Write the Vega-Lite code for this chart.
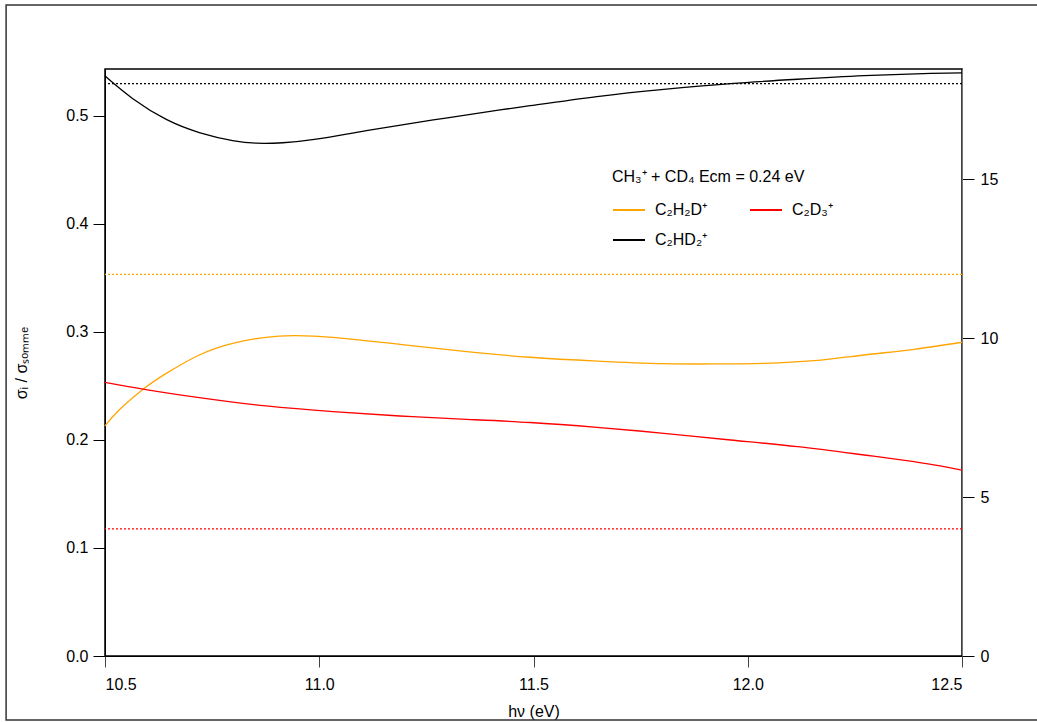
{
  "$schema": "https://vega.github.io/schema/vega-lite/v6.json",
  "autosize": {"type": "none"},
  "width": 857,
  "height": 587,
  "padding": {"left": 105, "top": 69, "right": 75, "bottom": 66},
  "background": "white",
  "config": {
    "font": "Liberation Sans",
    "view": {"stroke": "#000", "strokeWidth": 1.5},
    "axis": {"grid": false, "labelFontSize": 16, "titleFontSize": 16, "labelColor": "#000", "titleColor": "#000", "titleFontWeight": "normal", "tickColor": "#000", "domainColor": "#000", "labelFont": "Liberation Sans", "titleFont": "Liberation Sans"}
  },
  "datasets": {
    "curves": [
      {"hv": 10.5, "ratio": 0.537, "ion": "C₂HD₂⁺"},
      {"hv": 10.565, "ratio": 0.516, "ion": "C₂HD₂⁺"},
      {"hv": 10.643, "ratio": 0.4968, "ion": "C₂HD₂⁺"},
      {"hv": 10.72, "ratio": 0.4847, "ion": "C₂HD₂⁺"},
      {"hv": 10.798, "ratio": 0.4772, "ion": "C₂HD₂⁺"},
      {"hv": 10.853, "ratio": 0.4748, "ion": "C₂HD₂⁺"},
      {"hv": 10.915, "ratio": 0.4752, "ion": "C₂HD₂⁺"},
      {"hv": 10.993, "ratio": 0.4785, "ion": "C₂HD₂⁺"},
      {"hv": 11.11, "ratio": 0.4864, "ion": "C₂HD₂⁺"},
      {"hv": 11.266, "ratio": 0.4963, "ion": "C₂HD₂⁺"},
      {"hv": 11.422, "ratio": 0.5056, "ion": "C₂HD₂⁺"},
      {"hv": 11.492, "ratio": 0.5095, "ion": "C₂HD₂⁺"},
      {"hv": 11.648, "ratio": 0.518, "ion": "C₂HD₂⁺"},
      {"hv": 11.804, "ratio": 0.5247, "ion": "C₂HD₂⁺"},
      {"hv": 11.96, "ratio": 0.53, "ion": "C₂HD₂⁺"},
      {"hv": 12.116, "ratio": 0.534, "ion": "C₂HD₂⁺"},
      {"hv": 12.272, "ratio": 0.5373, "ion": "C₂HD₂⁺"},
      {"hv": 12.427, "ratio": 0.5395, "ion": "C₂HD₂⁺"},
      {"hv": 12.5, "ratio": 0.54, "ion": "C₂HD₂⁺"},
      {"hv": 10.5, "ratio": 0.213, "ion": "C₂H₂D⁺"},
      {"hv": 10.533, "ratio": 0.2278, "ion": "C₂H₂D⁺"},
      {"hv": 10.592, "ratio": 0.2479, "ion": "C₂H₂D⁺"},
      {"hv": 10.643, "ratio": 0.2617, "ion": "C₂H₂D⁺"},
      {"hv": 10.72, "ratio": 0.2787, "ion": "C₂H₂D⁺"},
      {"hv": 10.798, "ratio": 0.2895, "ion": "C₂H₂D⁺"},
      {"hv": 10.876, "ratio": 0.2951, "ion": "C₂H₂D⁺"},
      {"hv": 10.939, "ratio": 0.2966, "ion": "C₂H₂D⁺"},
      {"hv": 11.032, "ratio": 0.2951, "ion": "C₂H₂D⁺"},
      {"hv": 11.188, "ratio": 0.2886, "ion": "C₂H₂D⁺"},
      {"hv": 11.344, "ratio": 0.2818, "ion": "C₂H₂D⁺"},
      {"hv": 11.492, "ratio": 0.2766, "ion": "C₂H₂D⁺"},
      {"hv": 11.648, "ratio": 0.2731, "ion": "C₂H₂D⁺"},
      {"hv": 11.804, "ratio": 0.2707, "ion": "C₂H₂D⁺"},
      {"hv": 11.921, "ratio": 0.2704, "ion": "C₂H₂D⁺"},
      {"hv": 12.038, "ratio": 0.271, "ion": "C₂H₂D⁺"},
      {"hv": 12.155, "ratio": 0.2734, "ion": "C₂H₂D⁺"},
      {"hv": 12.272, "ratio": 0.2787, "ion": "C₂H₂D⁺"},
      {"hv": 12.388, "ratio": 0.284, "ion": "C₂H₂D⁺"},
      {"hv": 12.5, "ratio": 0.2905, "ion": "C₂H₂D⁺"},
      {"hv": 10.5, "ratio": 0.2534, "ion": "C₂D₃⁺"},
      {"hv": 10.592, "ratio": 0.2469, "ion": "C₂D₃⁺"},
      {"hv": 10.72, "ratio": 0.2392, "ion": "C₂D₃⁺"},
      {"hv": 10.876, "ratio": 0.2315, "ion": "C₂D₃⁺"},
      {"hv": 11.032, "ratio": 0.2262, "ion": "C₂D₃⁺"},
      {"hv": 11.188, "ratio": 0.2222, "ion": "C₂D₃⁺"},
      {"hv": 11.344, "ratio": 0.2191, "ion": "C₂D₃⁺"},
      {"hv": 11.492, "ratio": 0.2162, "ion": "C₂D₃⁺"},
      {"hv": 11.648, "ratio": 0.2117, "ion": "C₂D₃⁺"},
      {"hv": 11.804, "ratio": 0.2062, "ion": "C₂D₃⁺"},
      {"hv": 11.96, "ratio": 0.2, "ion": "C₂D₃⁺"},
      {"hv": 12.116, "ratio": 0.1938, "ion": "C₂D₃⁺"},
      {"hv": 12.272, "ratio": 0.1861, "ion": "C₂D₃⁺"},
      {"hv": 12.388, "ratio": 0.1799, "ion": "C₂D₃⁺"},
      {"hv": 12.5, "ratio": 0.1722, "ion": "C₂D₃⁺"}
    ],
    "levels": [
      {"ion": "C₂HD₂⁺", "level": 18},
      {"ion": "C₂H₂D⁺", "level": 12},
      {"ion": "C₂D₃⁺", "level": 4}
    ],
    "frame": [{"x0": 10.2692, "x1": 12.69, "y0": -0.0593, "y1": 0.6028}]
  },
  "layer": [
    {
      "data": {"name": "frame"},
      "mark": {"type": "rect", "fill": null, "fillOpacity": 0, "stroke": "#333", "strokeWidth": 1.5, "clip": false},
      "encoding": {
        "x": {"field": "x0", "type": "quantitative", "scale": {"domain": [10.5, 12.5], "nice": false, "zero": false}},
        "x2": {"field": "x1"},
        "y": {"field": "y0", "type": "quantitative", "scale": {"domain": [0, 0.5435], "nice": false}, "axis": null},
        "y2": {"field": "y1"}
      }
    },
    {
      "data": {"name": "curves"},
      "mark": {"type": "line", "interpolate": "natural", "strokeWidth": 1.3},
      "encoding": {
        "x": {
          "field": "hv", "type": "quantitative",
          "scale": {"domain": [10.5, 12.5], "nice": false, "zero": false},
          "axis": {"title": "hν (eV)", "values": [10.5, 11, 11.5, 12, 12.5], "format": ".1f", "tickSize": 11, "labelPadding": 9, "titlePadding": 11, "tickColor": "#444", "domainColor": "#000"}
        },
        "y": {
          "field": "ratio", "type": "quantitative",
          "scale": {"domain": [0, 0.5435], "nice": false},
          "axis": {"title": "σᵢ / σₛₒₘₘₑ", "values": [0, 0.1, 0.2, 0.3, 0.4, 0.5], "format": ".1f", "tickSize": 12, "labelPadding": 5, "titlePadding": 36}
        },
        "color": {
          "field": "ion", "type": "nominal",
          "scale": {"domain": ["C₂H₂D⁺", "C₂HD₂⁺", "C₂D₃⁺"], "range": ["#FFA500", "#000000", "#FF0000"]},
          "legend": {
            "title": "CH₃⁺ + CD₄ Ecm = 0.24 eV",
            "orient": "none", "legendX": 507, "legendY": 100,
            "columns": 2, "columnPadding": 38, "rowPadding": 5,
            "symbolType": "stroke", "symbolSize": 1024, "symbolStrokeWidth": 2,
            "labelFontSize": 16, "titleFontSize": 16, "titleFontWeight": "normal",
            "titleColor": "#000", "labelColor": "#000", "labelOffset": 9, "titlePadding": 8,
            "titleFont": "Liberation Sans", "labelFont": "Liberation Sans", "titleLimit": 400
          }
        }
      }
    },
    {
      "data": {"name": "levels"},
      "mark": {"type": "rule", "strokeDash": [2, 2], "strokeWidth": 1.3},
      "encoding": {
        "y": {
          "field": "level", "type": "quantitative",
          "scale": {"domain": [0, 18.46], "nice": false},
          "axis": {"orient": "right", "title": null, "values": [0, 5, 10, 15], "format": "d", "tickSize": 12, "labelPadding": 6, "domainColor": "#777"}
        },
        "color": {"field": "ion", "type": "nominal", "legend": null}
      }
    }
  ],
  "resolve": {"scale": {"y": "independent"}, "legend": {"color": "independent"}}
}
